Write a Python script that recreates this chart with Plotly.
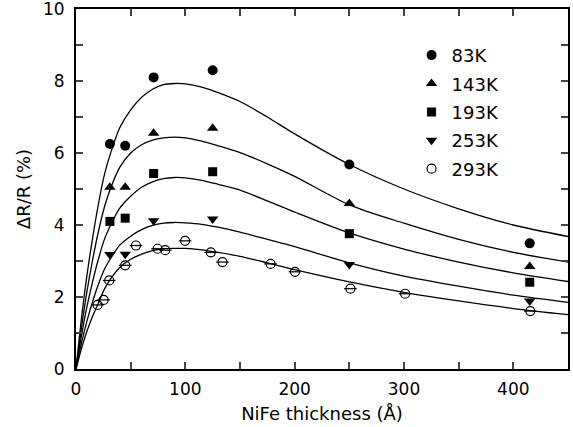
import plotly.graph_objects as go

# Measured data points (NiFe thickness in Å, ΔR/R in %)
x_meas = [31, 45, 71, 125, 250, 415]
y_83K = [6.25, 6.2, 8.1, 8.3, 5.68, 3.49]
y_143K = [5.05, 5.05, 6.55, 6.69, 4.6, 2.85]
y_193K = [4.1, 4.19, 5.43, 5.48, 3.76, 2.41]
y_253K = [3.18, 3.19, 4.12, 4.17, 2.9, 1.89]

x_293K = [19.7, 25.3, 30.4, 45, 54.8, 74.6, 81.6, 99.8, 123.3, 134, 178, 200.3, 251, 301, 415.5]
y_293K = [1.78, 1.92, 2.46, 2.88, 3.43, 3.34, 3.3, 3.56, 3.24, 2.97, 2.92, 2.70, 2.23, 2.09, 1.61]

# Fit curves
x_fit = [0, 5, 10, 15, 20, 26, 32, 40, 50, 60, 70, 80, 90, 100, 115, 130, 150, 175, 200, 250, 300, 350, 400, 450]
fit_83K = [0, 1.4, 2.6, 3.6, 4.5, 5.4, 6.03, 6.7, 7.2, 7.55, 7.77, 7.9, 7.93, 7.92, 7.83, 7.68, 7.43, 7.0, 6.53, 5.68, 5.0, 4.45, 4.0, 3.68]
fit_143K = [0, 1.15, 2.15, 3.0, 3.75, 4.5, 5.05, 5.6, 6.0, 6.23, 6.36, 6.42, 6.44, 6.42, 6.33, 6.2, 6.01, 5.7, 5.35, 4.56, 4.05, 3.6, 3.24, 2.97]
fit_193K = [0, 0.93, 1.73, 2.4, 3.0, 3.6, 4.02, 4.47, 4.8, 5.05, 5.2, 5.29, 5.32, 5.31, 5.24, 5.13, 4.97, 4.67, 4.36, 3.78, 3.33, 2.97, 2.67, 2.43]
fit_253K = [0, 0.72, 1.33, 1.85, 2.31, 2.77, 3.09, 3.44, 3.69, 3.87, 3.99, 4.05, 4.07, 4.06, 4.02, 3.94, 3.8, 3.6, 3.4, 2.95, 2.58, 2.3, 2.05, 1.85]
fit_293K = [0, 0.57, 1.05, 1.45, 1.8, 2.22, 2.52, 2.82, 3.05, 3.19, 3.29, 3.34, 3.35, 3.35, 3.31, 3.24, 3.13, 2.95, 2.76, 2.42, 2.13, 1.89, 1.68, 1.51]

labels = ["83K", "143K", "193K", "253K", "293K"]

fig = go.Figure()

for fy in [fit_83K, fit_143K, fit_193K, fit_253K, fit_293K]:
    fig.add_trace(go.Scatter(x=x_fit, y=fy, mode="lines", line=dict(color="black", width=1.3, shape="spline", smoothing=0.8),
                             showlegend=False, hoverinfo="skip"))

symbols = ["circle", "triangle-up", "square", "triangle-down"]
sizes = [10, 10, 9, 10]
for i, (yy, sym) in enumerate(zip([y_83K, y_143K, y_193K, y_253K], symbols)):
    fig.add_trace(go.Scatter(x=x_meas, y=yy, mode="markers", name=labels[i], legendgroup=labels[i],
                             marker=dict(symbol=sym, size=sizes[i], color="black")))

fig.add_trace(go.Scatter(x=x_293K, y=y_293K, mode="markers", name=labels[4], legendgroup=labels[4],
                         marker=dict(symbol="circle-open", size=9, color="black", line=dict(width=1.2))))
fig.add_trace(go.Scatter(x=x_293K, y=y_293K, mode="markers", name=labels[4], legendgroup=labels[4], showlegend=False,
                         marker=dict(symbol="line-ew", size=9, color="black", line=dict(width=1.2, color="black"))))

font_family = "DejaVu Sans, Liberation Sans, Arial, sans-serif"

fig.update_layout(
    width=573, height=427,
    margin=dict(l=76, r=5, t=9, b=58, autoexpand=False),
    paper_bgcolor="white", plot_bgcolor="white",
    font=dict(family=font_family, size=17, color="black"),
    legend=dict(x=0.682, y=0.9225, xanchor="left", yanchor="top", bgcolor="rgba(0,0,0,0)",
                font=dict(size=18), tracegroupgap=2, itemwidth=30),
    xaxis=dict(range=[0, 450], dtick=100, tick0=0, ticks="inside", ticklen=7, tickwidth=1.5,
               minor=dict(dtick=50, ticks="inside", ticklen=7, tickwidth=1.5),
               showline=True, linewidth=2, linecolor="black", mirror="ticks", showgrid=False, zeroline=False,
               title=dict(text="NiFe thickness (Å)", font=dict(size=18), standoff=9),
               ticklabelstandoff=4, automargin=False),
    yaxis=dict(range=[0, 10.0001], dtick=2, tick0=0, ticks="inside", ticklen=7, tickwidth=1.5,
               minor=dict(dtick=1, ticks="inside", ticklen=7, tickwidth=1.5),
               showline=True, linewidth=2, linecolor="black", mirror="ticks", showgrid=False, zeroline=False,
               title=dict(text="ΔR/R (%)", font=dict(size=18), standoff=8),
               ticklabelstandoff=6, ticklabeloverflow="allow", automargin=False),
)

fig.write_html("out.html")
